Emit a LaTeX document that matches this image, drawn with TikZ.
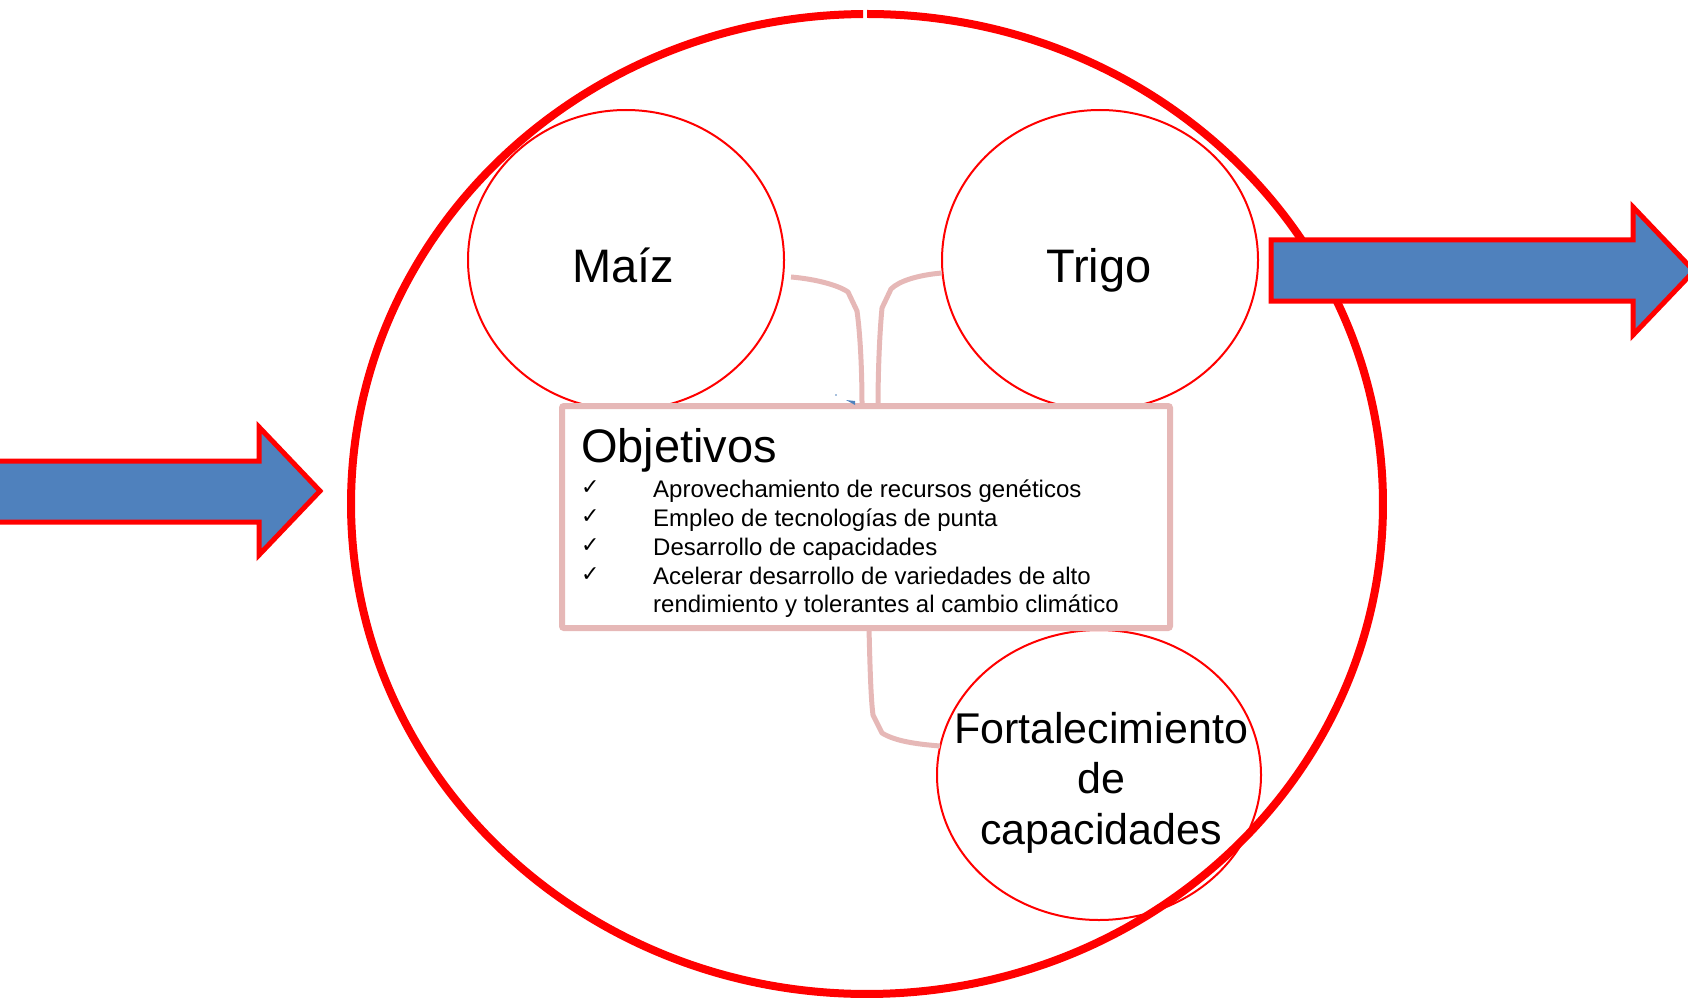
\documentclass[tikz,border=0pt]{standalone}
\usepackage{fontspec}
\setmainfont{Liberation Sans}
\newfontfamily\symfont{DejaVu Sans}
\usetikzlibrary{shapes.geometric,calc}
\definecolor{pinkline}{HTML}{E6B8B7}
\definecolor{arrowblue}{HTML}{4F81BD}
\definecolor{ringred}{HTML}{FF0000}
\begin{document}
\begin{tikzpicture}[x=1pt,y=-1pt,
  bubble/.style={ellipse, draw=ringred, line width=2pt, inner sep=0pt, outer sep=0pt, minimum width=316pt, minimum height=300pt},
  link/.style={draw=pinkline, line width=5pt, line join=round},
  bigarrow/.style={draw=ringred, fill=arrowblue, line width=5pt, line join=miter},
  bigtext/.style={anchor=base, inner sep=0pt, font=\fontsize{47}{56}\selectfont},
  forttext/.style={anchor=base, inner sep=0pt, font=\fontsize{43}{50}\selectfont},
  itemtext/.style={anchor=base west, inner sep=0pt, font=\fontsize{24}{28.8}\selectfont},
  checkmk/.style={anchor=base west, inner sep=0pt, font=\symfont\fontsize{22}{26}\selectfont},
  ]
\path[use as bounding box] (0,0) rectangle (1688,1000);
\clip (0,0) rectangle (1688,1000);

% big ring with tiny gap at the top
\draw[ringred, line width=8pt] (867,504) ++(90.44:516pt and 490pt)
  arc[start angle=90.44, end angle=450, x radius=516pt, y radius=490pt];

% small circles
\node[bubble] (maiz) at (626,260) {};
\node[bubble] (trigo) at (1100,260) {};
\node[bubble, minimum width=324pt, minimum height=290pt] (fort) at (1099,775) {};

% objectives box
\node[draw=pinkline, fill=white, line width=6pt, minimum width=608pt, minimum height=222pt,
      inner sep=0pt, outer sep=0pt, rounded corners=2pt] (obj) at (866,517) {};

% connectors
\draw[link] ($(maiz.east)+(7,17)$) .. controls (815,279) and (838,285) .. (848,292)
  -- (857,311) .. controls (861,340) and (862,380) .. ($(obj.north)+(-4,0)$);
\draw[link] ($(trigo.west)+(0,13)$) .. controls (918,275) and (899,281) .. (891,289)
  -- (882,308) .. controls (879,340) and (878,380) .. ($(obj.north)+(12,0)$);
\draw[link] ($(obj.south)+(3,0)$) .. controls (870,670) and (871,700) .. (873,715)
  -- (882,733) .. controls (895,741) and (915,744) .. ($(fort.west)+(3,-29)$);

% small blue artefact
\fill[arrowblue] (846,400) -- (855,401) -- (855,405) -- cycle;
\fill[arrowblue] (836,395) circle[radius=0.9pt];

% arrows
\draw[bigarrow] (-10,461) -- (259,461) -- (259,427) -- (320,491) -- (259,555) -- (259,522) -- (-10,522) -- cycle;
\draw[bigarrow] (1271,240) -- (1633,240) -- (1633,207) -- (1694,271) -- (1633,335) -- (1633,301) -- (1271,301) -- cycle;

% texts
\node[bigtext] (tmaiz) at (623,283) {Maíz};
\node[bigtext] (ttrigo) at (1099,283) {Trigo};
\node[forttext] (tfort1) at (1101,743) {Fortalecimiento};
\node[forttext] (tfort2) at (1101,793) {de};
\node[forttext] (tfort3) at (1101,844) {capacidades};

\node[bigtext, anchor=base west] (tobj) at (581,462) {Objetivos};
\node[checkmk] (c1) at (581,494) {✓};
\node[checkmk] (c2) at (581,523) {✓};
\node[checkmk] (c3) at (581,552) {✓};
\node[checkmk] (c4) at (581,581) {✓};
\node[itemtext] (i1) at (653,497) {Aprovechamiento de recursos genéticos};
\node[itemtext] (i2) at (653,526) {Empleo de tecnologías de punta};
\node[itemtext] (i3) at (653,555) {Desarrollo de capacidades};
\node[itemtext] (i4) at (653,584) {Acelerar desarrollo de variedades de alto};
\node[itemtext] (i5) at (653,612) {rendimiento y tolerantes al cambio climático};
\end{tikzpicture}
\end{document}
